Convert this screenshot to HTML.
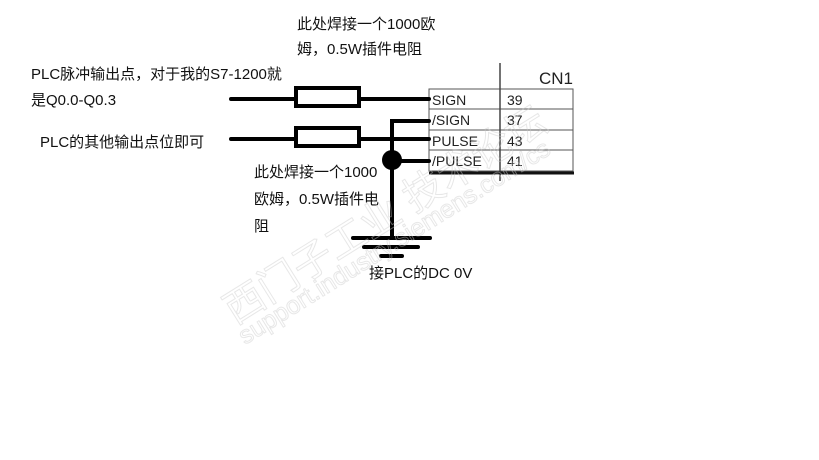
<!DOCTYPE html>
<html><head><meta charset="utf-8"><style>
body{margin:0;width:819px;height:460px;background:#fff;overflow:hidden;position:relative;font-family:"Liberation Sans","Noto Sans CJK SC",sans-serif;}
.t{position:absolute;font-size:15px;color:#111;line-height:16px;white-space:nowrap;}
</style></head><body>
<div class="t" style="left:297px;top:17px">此处焊接一个1000欧</div>
<div class="t" style="left:297px;top:42px">姆，0.5W插件电阻</div>
<div class="t" style="left:31px;top:67px">PLC脉冲输出点，对于我的S7-1200就</div>
<div class="t" style="left:31px;top:93px">是Q0.0-Q0.3</div>
<div class="t" style="left:40px;top:135px">PLC的其他输出点位即可</div>
<div class="t" style="left:254px;top:165px">此处焊接一个1000</div>
<div class="t" style="left:254px;top:192px">欧姆，0.5W插件电</div>
<div class="t" style="left:254px;top:219px">阻</div>
<div class="t" style="left:369px;top:266px">接PLC的DC 0V</div>
<svg width="819" height="460" style="position:absolute;left:0;top:0">
<g font-family="Liberation Sans, sans-serif" font-size="14" fill="#222">
<text x="539" y="84" font-size="17">CN1</text>
<text x="432" y="105">SIGN</text><text x="432" y="125">/SIGN</text>
<text x="432" y="146">PULSE</text><text x="432" y="166">/PULSE</text>
<text x="507" y="105">39</text><text x="507" y="125">37</text>
<text x="507" y="146">43</text><text x="507" y="166">41</text>
</g>
<g stroke="#555" stroke-width="1" fill="none">
<rect x="429" y="89" width="144" height="82"/>
<line x1="429" y1="109" x2="573" y2="109"/>
<line x1="429" y1="130" x2="573" y2="130"/>
<line x1="429" y1="150" x2="573" y2="150"/>
</g>
<line x1="500" y1="63" x2="500" y2="181" stroke="#444" stroke-width="1.5"/>
<line x1="429" y1="173" x2="574" y2="173" stroke="#111" stroke-width="3"/>
<g stroke="#000" stroke-width="4" fill="none" stroke-linecap="round">
<line x1="231" y1="99" x2="295" y2="99"/><line x1="359" y1="99" x2="429" y2="99"/>
<line x1="231" y1="139" x2="295" y2="139"/><line x1="359" y1="139" x2="429" y2="139"/>
<rect x="296" y="88" width="63" height="18" stroke-linecap="butt"/>
<rect x="296" y="128" width="63" height="18" stroke-linecap="butt"/>
<polyline points="429,121 392,121 392,238"/>
<line x1="392" y1="161" x2="429" y2="161"/>
<line x1="353" y1="238" x2="430" y2="238"/>
<line x1="364" y1="247" x2="418" y2="247"/>
<line x1="381" y1="256" x2="402" y2="256"/>
</g>
<circle cx="392" cy="160" r="10" fill="#000"/>
<g opacity="0.45" font-family="Liberation Sans, Noto Sans CJK SC, sans-serif">
<text x="235" y="325" font-size="40" transform="rotate(-32 235 325)" fill="none" stroke="#ccc">西门子工业 技术论坛</text>
<text x="245" y="345" font-size="25" transform="rotate(-32 245 345)" fill="none" stroke="#ccc">support.industry.siemens.com/cs</text>
</g>
</svg>
</body></html>
